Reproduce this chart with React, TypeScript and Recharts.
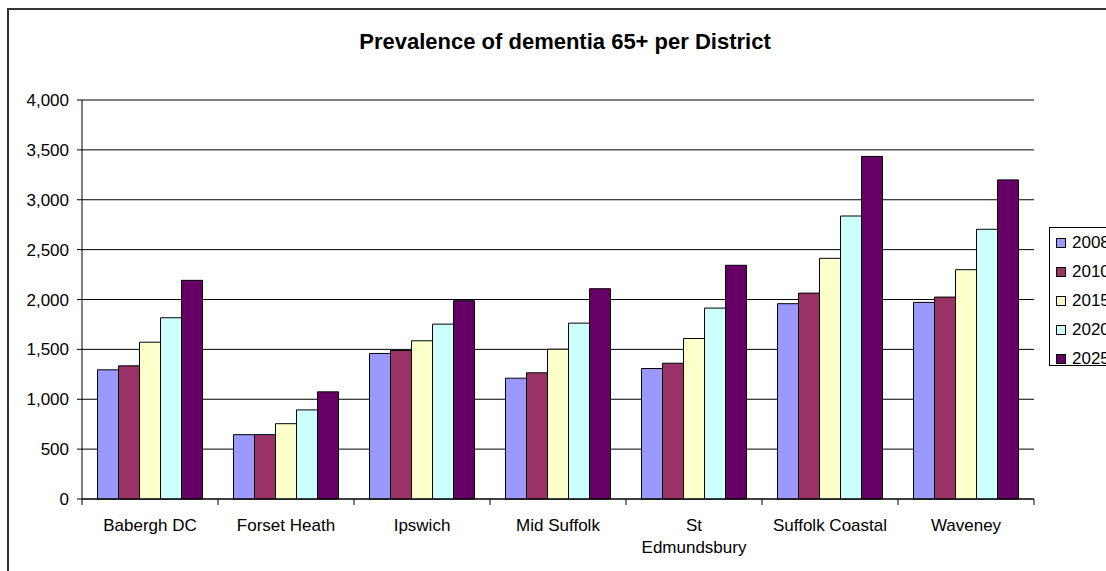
import React from 'react';
import { BarChart, Bar, XAxis, YAxis, CartesianGrid, Legend } from 'recharts';

const districts = ['Babergh DC', 'Forset Heath', 'Ipswich', 'Mid Suffolk', 'St Edmundsbury', 'Suffolk Coastal', 'Waveney'];
const years = ['2008', '2010', '2015', '2020', '2025'];
const y2008 = [1295, 645, 1459, 1211, 1308, 1958, 1971];
const y2010 = [1335, 645, 1489, 1265, 1361, 2064, 2024];
const y2015 = [1572, 755, 1586, 1502, 1609, 2413, 2299];
const y2020 = [1817, 893, 1753, 1763, 1914, 2837, 2704];
const y2025 = [2192, 1074, 1988, 2108, 2343, 3434, 3199];
const yTicks = [0, 500, 1000, 1500, 2000, 2500, 3000, 3500, 4000];
const colors = ['#9999FF', '#993366', '#FFFFCC', '#CCFFFF', '#660066'];

const series = [y2008, y2010, y2015, y2020, y2025];
const data = districts.map((name, i) => {
  const row: Record<string, string | number> = { name };
  years.forEach((yr, j) => { row[yr] = series[j][i]; });
  return row;
});

const FONT = 'Arial, "Liberation Sans", sans-serif';
const BAND = 952 / districts.length;

// word wrap of tick labels, measured with a canvas
const ctx = document.createElement('canvas').getContext('2d');
const wrap = (label: string, maxW: number) => {
  if (!ctx) return [label];
  ctx.font = `17px ${FONT}`;
  const lines: string[] = [];
  let cur = '';
  label.split(' ').forEach((w) => {
    const next = cur ? cur + ' ' + w : w;
    if (cur && ctx.measureText(next).width > maxW) {
      lines.push(cur);
      cur = w;
    } else cur = next;
  });
  lines.push(cur);
  return lines;
};

const DistrictTick = (props: any) => {
  const { x, y, payload, index } = props;
  const last = index === districts.length - 1;
  const lines = wrap(String(payload.value), 120);
  return (
    <g>
      <line x1={x - BAND / 2} y1={y} x2={x - BAND / 2} y2={y + 6} stroke="#000" />
      {last && <line x1={x + BAND / 2} y1={y} x2={x + BAND / 2} y2={y + 6} stroke="#000" />}
      <text x={x} y={y + 32} textAnchor="middle" fontSize={17} fontFamily={FONT} fill="#000">
        {lines.map((l, i) => (
          <tspan key={i} x={x} dy={i === 0 ? 0 : 22}>{l}</tspan>
        ))}
      </text>
    </g>
  );
};

const YearLegend = () => (
  <div style={{ width: 100, height: 139, border: '1px solid #000', background: '#fff', boxSizing: 'border-box', fontFamily: FONT, fontSize: 17 }}>
    {years.map((yr, i) => (
      <div key={yr} style={{ height: 29, display: 'flex', alignItems: 'center' }}>
        <span style={{ display: 'inline-block', width: 8, height: 8, border: '1px solid #000', background: colors[i], marginLeft: 6, marginRight: 6 }} />
        <span>{yr}</span>
      </div>
    ))}
  </div>
);

export default function App() {
  return (
    <div style={{ position: 'fixed', left: 0, top: 0, width: 1106, height: 571, overflow: 'hidden', background: '#fff' }}>
      <div style={{ position: 'absolute', left: 7, top: 8, width: 1200, height: 700, borderTop: '2px solid #333', borderLeft: '2px solid #333' }} />
      <div style={{ position: 'absolute', left: 0, top: 29, width: 1130, textAlign: 'center', fontFamily: FONT, fontWeight: 'bold', fontSize: 22, lineHeight: '26px' }}>
        Prevalence of dementia 65+ per District
      </div>
      <div style={{ position: 'absolute', left: 0, top: 0 }}>
        <BarChart width={1106} height={571} data={data} margin={{ top: 100, right: 72, bottom: 0, left: 0 }}
          barCategoryGap="11.4%" barGap={0}>
          <CartesianGrid vertical={false} stroke="#000" />
          <XAxis dataKey="name" height={72} axisLine={{ stroke: '#000' }} tickLine={false} tickSize={0} tickMargin={0}
            tick={<DistrictTick />} interval={0} />
          <YAxis width={82} domain={[0, 4000]} ticks={yTicks} axisLine={{ stroke: '#000' }} tickLine={{ stroke: '#000' }}
            tickSize={5} tickMargin={8} tick={{ fill: '#000', fontSize: 17, fontFamily: FONT }}
            tickFormatter={(v: number) => v.toLocaleString('en-US')} />
          <Legend layout="vertical" align="center" verticalAlign="middle" content={<YearLegend />}
            wrapperStyle={{ left: 1049, top: 227, width: 100 }} />
          {years.map((yr, i) => (
            <Bar key={yr} dataKey={yr} fill={colors[i]} stroke="#000" strokeWidth={1} isAnimationActive={false} />
          ))}
        </BarChart>
      </div>
    </div>
  );
}
